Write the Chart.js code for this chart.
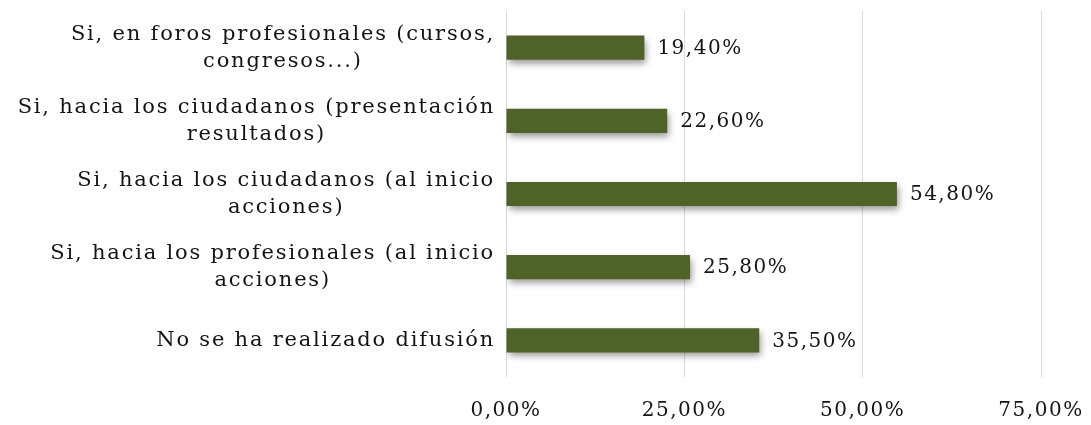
<!DOCTYPE html>
<html>
<head>
<meta charset="utf-8">
<script src="https://cdn.jsdelivr.net/npm/chart.js@4/dist/chart.umd.min.js"></script>
<style>
  html, body { margin: 0; padding: 0; background: #ffffff; }
  #wrap { width: 1091px; height: 425px; position: relative; }
</style>
</head>
<body>
<div id="wrap"><canvas id="c"></canvas></div>
<script>
// Survey answers: category labels (pre-wrapped lines), percentages, axis ticks
const categories = [
  ["Si, en foros profesionales (cursos,", "congresos...)"],
  ["Si, hacia los ciudadanos (presentación", "resultados)"],
  ["Si, hacia los ciudadanos (al inicio", "acciones)"],
  ["Si, hacia los profesionales (al inicio", "acciones)"],
  ["No se ha realizado difusión"]
];
const values = [19.4, 22.6, 54.8, 25.8, 35.5];
const xTicks = [0, 25, 50, 75];

const FONT_FAMILY = "'DejaVu Serif', 'Liberation Serif', serif";
const FONT_SIZE = 20;
const LABEL_SIZE = 21;
const TEXT_COLOR = '#141414';
const BAR_COLOR = '#4f6228';
const TEXT_SPACING = '1.8px';
const NUM_SPACING = '1.5px';

const pct = v => v.toFixed(2).replace('.', ',') + '%';

// Wide letter spacing for every text drawn on the canvas
const spacing = {
  id: 'spacing',
  beforeUpdate(chart) { chart.ctx.letterSpacing = NUM_SPACING; },
  beforeDraw(chart) { chart.ctx.letterSpacing = NUM_SPACING; }
};

// Soft drop shadow under the bars
const barShadow = {
  id: 'barShadow',
  beforeDatasetsDraw(chart) {
    const ctx = chart.ctx;
    ctx.save();
    ctx.shadowColor = 'rgba(0,0,0,0.42)';
    ctx.shadowBlur = 7;
    ctx.shadowOffsetX = 2;
    ctx.shadowOffsetY = 4;
  },
  afterDatasetsDraw(chart) {
    chart.ctx.restore();
  }
};

// Category labels (right-aligned blocks, lines centred within a block) and value labels
const textLabels = {
  id: 'textLabels',
  afterDraw(chart) {
    const ctx = chart.ctx;
    const yScale = chart.scales.y;
    const meta = chart.getDatasetMeta(0);
    const lineGap = 27;
    ctx.save();
    ctx.font = LABEL_SIZE + 'px ' + FONT_FAMILY;
    ctx.fillStyle = TEXT_COLOR;
    ctx.textBaseline = 'middle';
    ctx.textAlign = 'center';
    ctx.letterSpacing = TEXT_SPACING;
    const rightEdge = chart.chartArea.left - 11;
    categories.forEach((lines, i) => {
      const cy = yScale.getPixelForValue(i);
      const blockW = Math.max(...lines.map(l => ctx.measureText(l).width));
      const cx = rightEdge - blockW / 2;
      const top = cy - (lines.length - 1) * lineGap / 2;
      lines.forEach((l, k) => ctx.fillText(l, cx, top + k * lineGap));
    });
    ctx.font = FONT_SIZE + 'px ' + FONT_FAMILY;
    ctx.textAlign = 'left';
    ctx.letterSpacing = NUM_SPACING;
    meta.data.forEach((bar, i) => {
      ctx.fillText(pct(values[i]), bar.x + 13, bar.y + 1);
    });
    ctx.restore();
  }
};

new Chart(document.getElementById('c'), {
  type: 'bar',
  data: {
    labels: categories.map(c => c.join(' ')),
    datasets: [{
      data: values,
      backgroundColor: BAR_COLOR,
      borderWidth: 0,
      barPercentage: 0.33,
      categoryPercentage: 1.0
    }]
  },
  options: {
    indexAxis: 'y',
    responsive: true,
    maintainAspectRatio: false,
    animation: false,
    layout: { padding: { left: 10, right: 50, top: 11, bottom: 3 } },
    plugins: {
      legend: { display: false },
      tooltip: { enabled: false }
    },
    scales: {
      x: {
        type: 'linear',
        min: 0,
        max: 75,
        afterBuildTicks: s => { s.ticks = xTicks.map(v => ({ value: v })); },
        afterFit: s => { s.height = 45; s.paddingRight = 0; s.paddingLeft = 0; },
        grid: { color: '#d9d9d9', lineWidth: 1, drawTicks: false },
        border: { display: false },
        ticks: {
          padding: 22,
          color: TEXT_COLOR,
          font: { family: FONT_FAMILY, size: FONT_SIZE },
          maxRotation: 0,
          callback: v => pct(v)
        }
      },
      y: {
        type: 'category',
        grid: { display: false },
        border: { display: false },
        ticks: { display: false },
        afterFit: s => { s.width = 496; }
      }
    }
  },
  plugins: [spacing, barShadow, textLabels]
});
</script>
</body>
</html>
